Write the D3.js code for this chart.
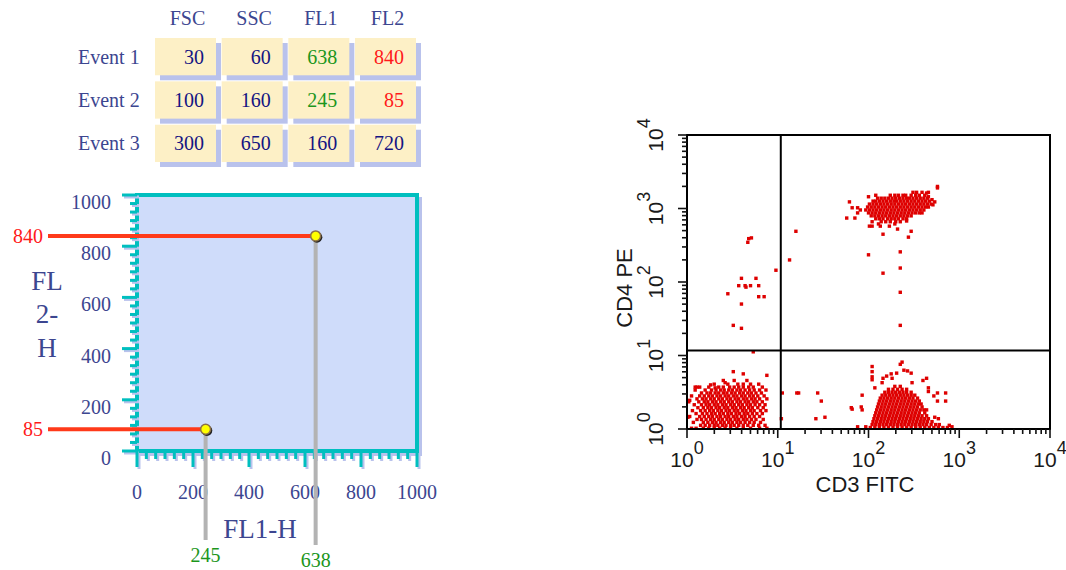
<!DOCTYPE html>
<html>
<head>
<meta charset="utf-8">
<title>From list mode events to a dot plot</title>
<script src="https://cdn.jsdelivr.net/npm/d3@7"></script>
<style>
body { margin: 0; background: #fff; }
svg { display: block; }
.serif { font-family: "Liberation Serif", "Times New Roman", serif; }
.sans { font-family: "Liberation Sans", Arial, sans-serif; }
</style>
</head>
<body>
<svg width="1066" height="570"></svg>
<script>
// list mode table
var params = ["FSC", "SSC", "FL1", "FL2"];
var events = ["Event 1", "Event 2", "Event 3"];
var fsc = [30, 100, 300];
var ssc = [60, 160, 650];
var fl1 = [638, 245, 160];
var fl2 = [840, 85, 720];
var plotted = 2; // events 1 and 2 are placed on the plot
var linTicks = [0, 200, 400, 600, 800, 1000];

// dot plot, values in log10 decades (cd3, cd4)
var logTicks = [1, 10, 100, 1000, 10000];
var gateCD3 = 10.8, gateCD4 = 11.7;

// CD3+ CD4+ core, rows of [cd4, [cd3...]]
var dpRows = [
 [3.18, [2.24,2.29,2.33,2.38,2.41,2.47,2.52,2.56,2.62]],
 [3.14, [2.10,2.14,2.18,2.22,2.26,2.30,2.34,2.38,2.42,2.45,2.49,2.53,2.57,2.61,2.65]],
 [3.10, [2.05,2.08,2.12,2.16,2.20,2.24,2.28,2.31,2.35,2.39,2.43,2.47,2.51,2.55,2.59,2.63,2.67]],
 [3.06, [2.01,2.05,2.09,2.13,2.17,2.21,2.25,2.29,2.33,2.37,2.41,2.45,2.49,2.53,2.57,2.61,2.65,2.69]],
 [3.02, [1.99,2.03,2.07,2.11,2.15,2.19,2.23,2.27,2.31,2.35,2.39,2.43,2.47,2.51,2.55,2.59,2.63,2.66]],
 [2.98, [1.97,2.01,2.05,2.09,2.13,2.17,2.21,2.25,2.29,2.33,2.37,2.41,2.45,2.49,2.53,2.57,2.61]],
 [2.94, [2.00,2.04,2.08,2.12,2.16,2.20,2.24,2.28,2.32,2.36,2.40,2.44,2.48,2.52,2.56]],
 [2.90, [2.03,2.07,2.11,2.15,2.19,2.23,2.27,2.31,2.35,2.39,2.43,2.47]],
 [2.86, [2.08,2.12,2.16,2.21,2.25,2.29,2.33,2.38,2.42]],
 [2.82, [2.14,2.19,2.24,2.30,2.35]]
];
var dpOut = [[1.79,3.09],[1.76,2.87],[1.85,2.87],[1.82,3.01],[1.88,3.01],[1.91,2.98],[1.88,2.94],[2.00,3.16],
 [2.08,3.18],[2.01,2.76],[2.04,2.76],[2.04,2.82],[2.11,2.79],[2.13,2.76],[2.23,2.76],[2.29,2.79],[2.42,2.83],
 [2.59,2.94],[2.66,3.16],[2.64,3.21],[2.59,3.22],[2.53,3.22],[2.49,3.22],[2.66,3.22],[2.73,3.09],[2.76,3.28],
 [2.76,3.30],[2.16,2.65],[2.44,2.61],[2.47,2.69],[2.32,2.72],[2.00,2.37],[2.35,2.41],[2.35,2.19],[2.16,2.12],
 [2.35,1.86],[2.35,1.41],[2.71,3.05],[2.70,3.12],[1.13,2.30],[1.20,2.69]];

// CD3- CD4+
var cd4Only = [[0.71,2.60],[0.68,2.59],[0.67,2.54],[0.60,2.05],[0.76,2.05],[0.57,1.95],[0.64,1.95],[0.65,1.93],
 [0.70,1.95],[0.79,1.95],[0.45,1.84],[0.79,1.80],[0.85,1.80],[0.60,1.70],[0.51,1.41],[0.60,1.37],[0.98,2.16]];

// CD3- CD4- core
var dnRows = [
 [0.66, [0.40,0.52,0.66]],
 [0.61, [0.30,0.45,0.56,0.62,0.70,0.79]],
 [0.57, [0.14,0.24,0.35,0.40,0.47,0.52,0.57,0.62,0.68,0.73,0.83]],
 [0.53, [0.09,0.20,0.27,0.32,0.37,0.41,0.46,0.50,0.55,0.59,0.64,0.69,0.74,0.80,0.87]],
 [0.49, [0.16,0.22,0.26,0.31,0.35,0.40,0.44,0.49,0.53,0.58,0.62,0.67,0.71,0.76,0.82]],
 [0.45, [0.05,0.14,0.19,0.24,0.28,0.33,0.37,0.42,0.46,0.51,0.55,0.60,0.64,0.69,0.73,0.78,0.85]],
 [0.41, [0.11,0.17,0.21,0.26,0.30,0.35,0.39,0.44,0.48,0.53,0.57,0.62,0.66,0.71,0.75,0.80,0.88]],
 [0.37, [0.02,0.13,0.19,0.23,0.28,0.32,0.37,0.41,0.46,0.50,0.55,0.59,0.64,0.68,0.73,0.77,0.83]],
 [0.33, [0.08,0.16,0.21,0.25,0.30,0.34,0.39,0.43,0.48,0.52,0.57,0.61,0.66,0.70,0.75,0.80,0.86]],
 [0.29, [0.12,0.18,0.23,0.27,0.32,0.36,0.41,0.45,0.50,0.54,0.59,0.63,0.68,0.72,0.78,0.84]],
 [0.25, [0.06,0.15,0.20,0.25,0.29,0.34,0.38,0.43,0.47,0.52,0.56,0.61,0.65,0.70,0.74,0.81,0.87]],
 [0.21, [0.10,0.17,0.22,0.27,0.31,0.36,0.40,0.45,0.49,0.54,0.58,0.63,0.67,0.72,0.77,0.83]],
 [0.17, [0.03,0.14,0.19,0.24,0.28,0.33,0.37,0.42,0.46,0.51,0.55,0.60,0.64,0.69,0.74,0.80]],
 [0.13, [0.11,0.16,0.21,0.26,0.30,0.35,0.39,0.44,0.48,0.53,0.57,0.62,0.66,0.71,0.76,0.84]],
 [0.09, [0.07,0.18,0.23,0.28,0.32,0.37,0.41,0.46,0.50,0.55,0.59,0.64,0.69,0.74,0.81]],
 [0.05, [0.15,0.20,0.25,0.30,0.34,0.39,0.43,0.48,0.52,0.57,0.62,0.67,0.73,0.79,0.86]],
 [0.01, [0.05,0.10,0.18,0.24,0.30,0.36,0.42,0.48,0.55,0.62,0.70,0.80,0.88]]
];
var dnOut = [[0.51,0.78],[0.62,0.75],[0.88,0.73],[0.09,0.57],[0.11,0.57],[0.03,0.39],[0.01,0.16],
 [0.73,1.05],[0.42,0.63],[0.26,0.60],[0.31,0.56]];

// CD3+ CD4- core
var cd3Rows = [
 [0.58, [2.29,2.35]],
 [0.54, [2.22,2.27,2.32,2.37,2.42]],
 [0.50, [2.18,2.22,2.26,2.30,2.34,2.38,2.42,2.47]],
 [0.46, [2.15,2.19,2.23,2.27,2.31,2.35,2.39,2.43,2.47,2.51]],
 [0.42, [2.13,2.17,2.21,2.25,2.29,2.33,2.37,2.41,2.45,2.49,2.54]],
 [0.38, [2.12,2.16,2.20,2.24,2.28,2.32,2.36,2.40,2.44,2.48,2.52,2.56]],
 [0.34, [2.11,2.15,2.19,2.23,2.27,2.31,2.35,2.39,2.43,2.47,2.51,2.55,2.58]],
 [0.30, [2.10,2.14,2.18,2.22,2.26,2.30,2.34,2.38,2.42,2.46,2.50,2.54,2.59]],
 [0.26, [2.09,2.13,2.17,2.21,2.25,2.29,2.33,2.37,2.41,2.45,2.49,2.53,2.57,2.61]],
 [0.22, [2.08,2.12,2.16,2.20,2.24,2.28,2.32,2.36,2.40,2.44,2.48,2.52,2.56,2.62]],
 [0.18, [2.07,2.11,2.15,2.19,2.23,2.27,2.31,2.35,2.39,2.43,2.47,2.51,2.55,2.59,2.64]],
 [0.14, [2.06,2.10,2.14,2.18,2.22,2.26,2.30,2.34,2.38,2.42,2.46,2.50,2.54,2.58,2.62,2.66]],
 [0.10, [2.05,2.09,2.13,2.17,2.21,2.25,2.29,2.33,2.37,2.41,2.45,2.49,2.53,2.57,2.61,2.65,2.70]],
 [0.06, [2.04,2.08,2.12,2.16,2.20,2.24,2.28,2.32,2.36,2.40,2.44,2.48,2.52,2.56,2.60,2.64,2.69,2.74,2.78]],
 [0.02, [2.02,2.07,2.12,2.17,2.22,2.27,2.32,2.37,2.42,2.47,2.52,2.57,2.62,2.67,2.72,2.77,2.82,2.87]]
];
var cd3Out = [[2.37,0.91],[2.35,0.88],[2.04,0.85],[2.04,0.78],[2.04,0.71],[2.04,0.67],[2.43,0.79],[2.47,0.76],
 [2.25,0.75],[2.26,0.69],[2.16,0.69],[2.64,0.69],[2.15,0.63],[2.48,0.63],[2.07,0.56],[2.66,0.56],[2.66,0.51],
 [2.76,0.49],[2.85,0.49],[2.85,0.38],[2.76,0.38],[2.64,0.26],[2.73,0.16],[2.77,0.14],[1.97,0.03],[2.92,0.03],
 [2.89,0.05],[2.72,0.45],[2.60,0.66],[2.20,0.72],[2.31,0.76],[2.39,0.80]];
var between = [[1.05,0.49],[1.21,0.49],[1.23,0.49],[1.44,0.49],[1.48,0.38],[1.42,0.14],[1.52,0.16],[1.81,0.29],
 [1.88,0.03],[1.04,0.14],[1.82,0.27],[1.92,0.30],[1.93,0.26],[1.93,0.46]];

var svg = d3.select("svg");
svg.append("rect").attr("width", 1066).attr("height", 570).attr("fill", "#fff");

var labelBlue = "#3c4690", numNavy = "#141482", green = "#1c961c", red = "#ff1a1a";
var cyan = "#00bfbf", lavender = "#b9c2ec";

// ---- table ----
var colX = d3.scaleBand().domain(params).range([155, 416]).paddingInner(0.085);
var rowY = d3.scaleBand().domain(events).range([38, 162]).paddingInner(0.14);
var cols = [fsc, ssc, fl1, fl2];
var tbl = svg.append("g").attr("class", "serif");
tbl.selectAll("text.hdr").data(params).enter().append("text").attr("class", "hdr")
  .attr("x", function(d){ return colX(d) + colX.bandwidth()/2 + 2; }).attr("y", 25)
  .attr("text-anchor", "middle").attr("font-size", 20).attr("fill", labelBlue).text(function(d){ return d; });
tbl.selectAll("text.ev").data(events).enter().append("text").attr("class", "ev")
  .attr("x", 78).attr("y", function(d){ return rowY(d) + rowY.bandwidth()/2 + 7; })
  .attr("font-size", 20).attr("fill", labelBlue).text(function(d){ return d; });
events.forEach(function(ev, i){
  params.forEach(function(p, j){
    var x = colX(p), y = rowY(ev);
    tbl.append("rect").attr("x", x + 5).attr("y", y + 5).attr("width", colX.bandwidth()).attr("height", rowY.bandwidth()).attr("fill", lavender);
    tbl.append("rect").attr("x", x).attr("y", y).attr("width", colX.bandwidth()).attr("height", rowY.bandwidth()).attr("fill", "#fdf0c6");
    var c = numNavy;
    if (i < plotted && j == 2) c = green;
    if (i < plotted && j == 3) c = red;
    tbl.append("text").attr("x", x + colX.bandwidth() - 12).attr("y", y + rowY.bandwidth()/2 + 7)
      .attr("text-anchor", "end").attr("font-size", 20).attr("fill", c).text(cols[j][i]);
  });
});

// ---- linear FL1 / FL2 plot ----
var xl = d3.scaleLinear().domain([0, 1000]).range([137, 417]);
var yl = d3.scaleLinear().domain([0, 1000]).range([451, 195]);
var lp = svg.append("g");
lp.append("rect").attr("x", xl(0) + 2).attr("y", yl(1000) + 2).attr("width", xl(1000) - xl(0) + 3).attr("height", yl(0) - yl(1000) + 3).attr("fill", lavender);
lp.append("rect").attr("x", xl(0)).attr("y", yl(1000)).attr("width", xl(1000) - xl(0)).attr("height", yl(0) - yl(1000))
  .attr("fill", "#cfdcfa").attr("stroke", cyan).attr("stroke-width", 4);
var minor = d3.range(0, 1000.01, 1000/30);
function isMajor(v){ return Math.abs(v/200 - Math.round(v/200)) < 1e-6; }
[[2, lavender], [0, cyan]].forEach(function(s){
  var off = s[0];
  lp.selectAll(null).data(minor).enter().append("line")
    .attr("x1", function(d){ return xl(d) + off; }).attr("x2", function(d){ return xl(d) + off; })
    .attr("y1", yl(0) + off).attr("y2", function(d){ return yl(0) + off + (isMajor(d) ? 16 : 8); })
    .attr("stroke", s[1]).attr("stroke-width", 3);
  lp.selectAll(null).data(minor).enter().append("line")
    .attr("y1", function(d){ return yl(d) + off; }).attr("y2", function(d){ return yl(d) + off; })
    .attr("x1", xl(0) + off).attr("x2", function(d){ return xl(0) + off - (isMajor(d) ? 15 : 7); })
    .attr("stroke", s[1]).attr("stroke-width", 3);
});
lp.selectAll("text.xt").data(linTicks).enter().append("text").attr("class", "serif")
  .attr("x", function(d){ return xl(d); }).attr("y", 499).attr("text-anchor", "middle")
  .attr("font-size", 20).attr("fill", labelBlue).text(function(d){ return d; });
lp.selectAll("text.yt").data(linTicks).enter().append("text").attr("class", "serif")
  .attr("x", 111).attr("y", function(d){ return yl(d) + 14; }).attr("text-anchor", "end")
  .attr("font-size", 20).attr("fill", labelBlue).text(function(d){ return d; });
lp.append("text").attr("class", "serif").attr("x", 260).attr("y", 538).attr("text-anchor", "middle")
  .attr("font-size", 27).attr("fill", labelBlue).text("FL1-H");
[["FL", 290], ["2-", 323], ["H", 357]].forEach(function(t){
  lp.append("text").attr("class", "serif").attr("x", 47).attr("y", t[1]).attr("text-anchor", "middle")
    .attr("font-size", 27).attr("fill", labelBlue).text(t[0]);
});

// guide lines for the plotted events
var dropEnd = [545, 540];
for (var i = 0; i < plotted; i++) {
  var px = xl(fl1[i]), py = yl(fl2[i]);
  lp.append("line").attr("x1", 48).attr("x2", px).attr("y1", py).attr("y2", py).attr("stroke", "#ff3a1a").attr("stroke-width", 4);
  lp.append("text").attr("class", "serif").attr("x", 43).attr("y", py + 7).attr("text-anchor", "end")
    .attr("font-size", 20).attr("fill", red).text(fl2[i]);
  lp.append("line").attr("x1", px).attr("x2", px).attr("y1", py).attr("y2", dropEnd[i]).attr("stroke", "#b3b3b3").attr("stroke-width", 4);
  lp.append("text").attr("class", "serif").attr("x", px).attr("y", dropEnd[i] + 22).attr("text-anchor", "middle")
    .attr("font-size", 20).attr("fill", green).text(fl1[i]);
  lp.append("circle").attr("cx", px + 1.3).attr("cy", py + 1.3).attr("r", 5.4).attr("fill", "#222");
  lp.append("circle").attr("cx", px).attr("cy", py).attr("r", 5).attr("fill", "#ffff00").attr("stroke", "#8b7048").attr("stroke-width", 1.6);
}

// ---- log CD3 / CD4 dot plot ----
var xs = d3.scaleLog().domain([1, 10000]).range([687, 1050]);
var ys = d3.scaleLog().domain([1, 10000]).range([429, 135]);
var rp = svg.append("g");
function fromRows(rows){
  var pts = [];
  rows.forEach(function(r){ r[1].forEach(function(c){ pts.push([c, r[0]]); }); });
  return pts;
}
var dots = [].concat(fromRows(dpRows), dpOut, cd4Only, fromRows(dnRows), dnOut, fromRows(cd3Rows), cd3Out, between);
rp.selectAll("rect.dot").data(dots).enter().append("rect").attr("class", "dot")
  .attr("x", function(d){ return xs(Math.pow(10, d[0])) - 1.7; })
  .attr("y", function(d){ return ys(Math.pow(10, d[1])) - 1.7; })
  .attr("width", 3.4).attr("height", 3.4).attr("fill", "#de0000");

rp.append("rect").attr("x", xs(1)).attr("y", ys(10000)).attr("width", xs(10000) - xs(1)).attr("height", ys(1) - ys(10000))
  .attr("fill", "none").attr("stroke", "#000").attr("stroke-width", 2);
rp.append("line").attr("x1", xs(gateCD3)).attr("x2", xs(gateCD3)).attr("y1", ys(10000)).attr("y2", ys(1)).attr("stroke", "#000").attr("stroke-width", 2);
rp.append("line").attr("x1", xs(1)).attr("x2", xs(10000)).attr("y1", ys(gateCD4)).attr("y2", ys(gateCD4)).attr("stroke", "#000").attr("stroke-width", 2);

var logMinor = [];
[1, 10, 100, 1000].forEach(function(dec){ d3.range(1, 10).forEach(function(k){ logMinor.push(k * dec); }); });
logMinor.push(10000);
function isDecade(v){ return logTicks.indexOf(v) >= 0; }
rp.selectAll(null).data(logMinor).enter().append("line")
  .attr("x1", function(d){ return xs(d); }).attr("x2", function(d){ return xs(d); })
  .attr("y1", ys(1)).attr("y2", function(d){ return ys(1) + (isDecade(d) ? 9 : 5); })
  .attr("stroke", "#111").attr("stroke-width", 1.6);
rp.selectAll(null).data(logMinor).enter().append("line")
  .attr("y1", function(d){ return ys(d); }).attr("y2", function(d){ return ys(d); })
  .attr("x1", xs(1)).attr("x2", function(d){ return xs(1) - (isDecade(d) ? 9 : 5); })
  .attr("stroke", "#111").attr("stroke-width", 1.6);

function powLabel(sel){
  sel.attr("class", "sans").attr("text-anchor", "middle").attr("font-size", 21).attr("fill", "#1a1a1a");
  sel.append("tspan").text("10");
  sel.append("tspan").attr("dy", -13).attr("font-size", 18).text(function(d){ return Math.round(Math.log10(d)); });
}
rp.selectAll("text.lx").data(logTicks).enter().append("text")
  .attr("x", function(d){ return xs(d); }).attr("y", 467).call(powLabel);
rp.selectAll("text.ly").data(logTicks).enter().append("text")
  .attr("transform", function(d){ return "translate(663," + ys(d) + ") rotate(-90)"; }).call(powLabel);
rp.append("text").attr("class", "sans").attr("x", 865).attr("y", 492).attr("text-anchor", "middle")
  .attr("font-size", 22).attr("fill", "#1a1a1a").text("CD3 FITC");
rp.append("text").attr("class", "sans").attr("transform", "translate(632,288) rotate(-90)").attr("text-anchor", "middle")
  .attr("font-size", 22).attr("fill", "#1a1a1a").text("CD4 PE");
</script>
</body>
</html>
